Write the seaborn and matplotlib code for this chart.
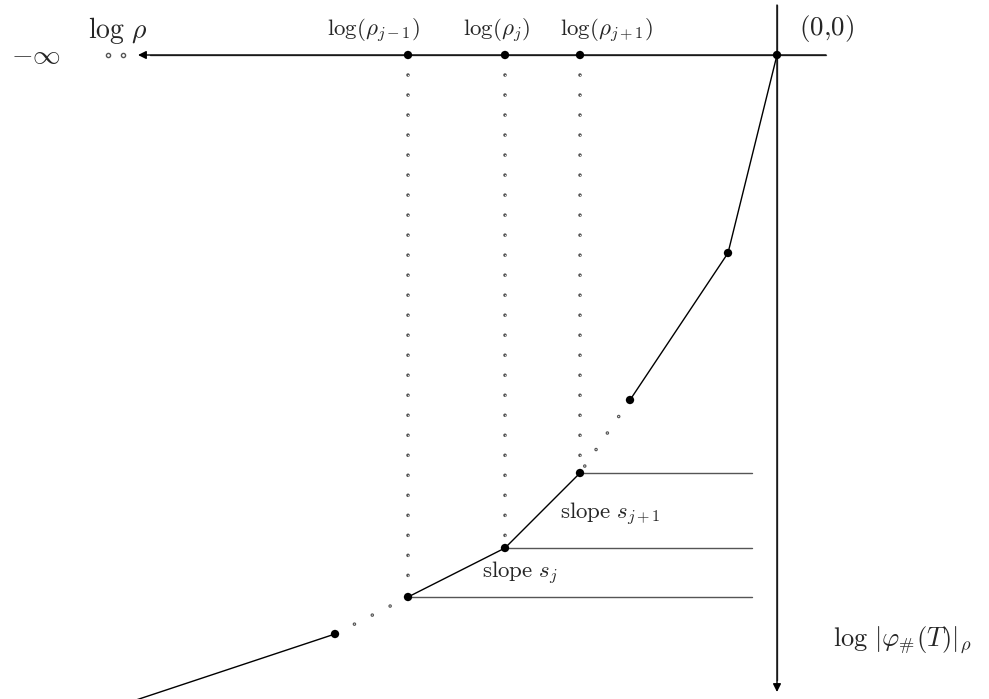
import matplotlib
matplotlib.use("Agg")
import matplotlib.pyplot as plt
import pandas as pd
import seaborn as sns

# --- data (diagram coordinates, y grows downward) ---
axis_y = 55
origin_x = 777
rho_x = [408, 505, 580]
rho_labels = [r"$\log(\rho_{j-1})$", r"$\log(\rho_j)$", r"$\log(\rho_{j+1})$"]
rho_label_x = [373, 496, 606]

upper_x = [777, 728, 630]
upper_y = [55, 253, 400]
middle_x = [580, 505, 408]
middle_y = [473, 548, 597]
lower_x = [335, 130]
lower_y = [634, 702]
level_end_x = 752

sns.set_theme(style="white")
plt.rcParams["mathtext.fontset"] = "cm"
plt.rcParams["font.family"] = ["DejaVu Serif"]
plt.rcParams["lines.scale_dashes"] = False

fig = plt.figure(figsize=(9.89, 6.99), dpi=100)
ax = fig.add_axes([0, 0, 1, 1])

axis_col = "#555555"

# axes with arrows
ax.annotate("", xy=(138, axis_y), xytext=(826, axis_y),
            arrowprops=dict(arrowstyle="-|>", color="black", lw=1.0,
                            mutation_scale=12, shrinkA=0, shrinkB=0))
ax.plot([826, 150], [axis_y, axis_y], color=axis_col, lw=1.0)
ax.annotate("", xy=(origin_x, 692), xytext=(origin_x, 5),
            arrowprops=dict(arrowstyle="-|>", color="black", lw=1.0,
                            mutation_scale=12, shrinkA=0, shrinkB=0))
ax.plot([origin_x, origin_x], [5, 680], color=axis_col, lw=1.0)


def dotted(xs, ys):
    ax.plot(xs, ys, color="#555555", lw=2.6, linestyle=(0, (0.01, 14.4)),
            dash_capstyle="round", zorder=2)
    ax.plot(xs, ys, color="white", lw=0.9, linestyle=(0, (0.01, 14.4)),
            dash_capstyle="round", zorder=2.1)


# vertical dotted drops
for x, y in zip(middle_x, middle_y):
    dotted([x, x], [axis_y, y])
# dotted gaps in the polygon
dotted([upper_x[-1], middle_x[0]], [upper_y[-1], middle_y[0]])
dotted([middle_x[-1], lower_x[0]], [middle_y[-1], lower_y[0]])
# dots beyond arrow
ax.scatter([108, 123], [axis_y, axis_y], s=9, facecolor="white",
           edgecolor="#555555", linewidth=1.0, zorder=3)

# horizontal level lines
for x, y in zip(middle_x, middle_y):
    ax.plot([x, level_end_x], [y, y], color=axis_col, lw=1.0)

# polygon pieces
for xs, ys in [(upper_x, upper_y), (middle_x, middle_y), (lower_x, lower_y)]:
    df = pd.DataFrame({"x": xs, "y": ys})
    sns.lineplot(data=df, x="x", y="y", sort=False, color="black", lw=1.0,
                 ax=ax, estimator=None)

# vertices
pts = pd.DataFrame({
    "x": rho_x + [origin_x] + upper_x[1:] + middle_x + lower_x[:1],
    "y": [axis_y] * 4 + upper_y[1:] + middle_y + lower_y[:1],
})
sns.scatterplot(data=pts, x="x", y="y", color="black", s=36, edgecolor="none",
                ax=ax, zorder=5)
ax.set_xlim(0, 989)
ax.set_ylim(699, 0)
ax.axis("off")

# text
ax.text(36, 55, r"$-\infty$", fontsize=20, ha="center", va="center")
ax.text(118, 30, r"$\log\,\rho$", fontsize=20, ha="center", va="center")
for x, lab in zip(rho_label_x, rho_labels):
    ax.text(x, 31, lab, fontsize=16.5, ha="center", va="center")
ax.text(826, 28, r"$(0{,}0)$", fontsize=19.5, ha="center", va="center")
ax.text(560, 514, r"$\mathrm{slope}\ s_{j+1}$", fontsize=16.5, ha="left", va="center")
ax.text(482, 573, r"$\mathrm{slope}\ s_j$", fontsize=16.5, ha="left", va="center")
ax.text(902, 640, r"$\log\,|\varphi_{\#}(T)|_{\rho}$", fontsize=19,
        ha="center", va="center")

fig.savefig("out.png", dpi=100)
